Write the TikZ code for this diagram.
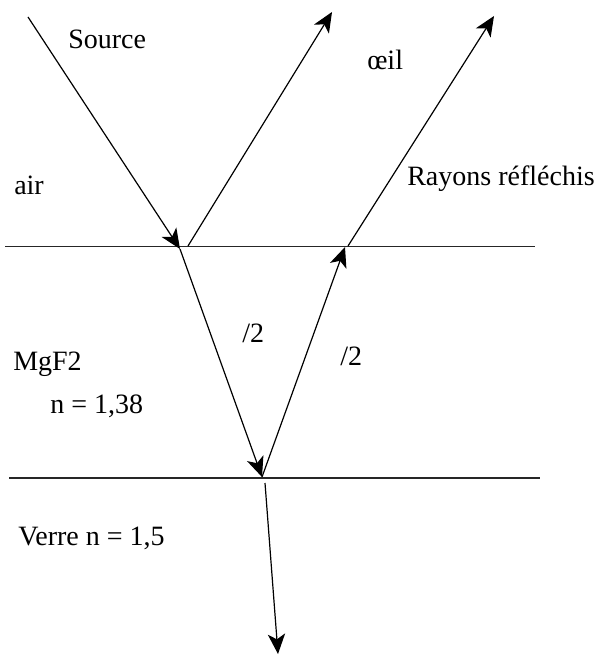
\documentclass[tikz,border=0pt]{standalone}
\usepackage{fontspec}
\setmainfont{Liberation Serif}
\usetikzlibrary{arrows.meta}
\begin{document}
\begin{tikzpicture}[x=0.75pt,y=-0.75pt,
  ray/.style={line width=0.9pt,-{Stealth[length=15pt,width=13pt,inset=4pt]}},
  iface/.style={line width=1.3pt,black!85},
  lbl/.style={anchor=base west,inner sep=0pt,font=\fontsize{21}{25}\selectfont}]
\useasboundingbox (0,0) rectangle (609,655);
% interfaces
\coordinate (t1) at (5,246.5);
\coordinate (t2) at (535,246.5);
\coordinate (b1) at (9,478);
\coordinate (b2) at (540,478);
\draw[iface] (t1) -- (t2);
\draw[iface] (b1) -- (b2);
% ray points
\coordinate (src) at (28,17);
\coordinate (i1) at (180,249);
\coordinate (r1s) at (188,246);
\coordinate (r1e) at (332,12);
\coordinate (i2) at (262,477);
\coordinate (u1) at (345,247);
\coordinate (r2s) at (348,246);
\coordinate (r2e) at (494,16);
\coordinate (ts) at (265,483);
\coordinate (te) at (278,654);
\draw[ray] (src) -- (i1);
\draw[ray] (r1s) -- (r1e);
\draw[ray] (i1) -- (i2);
\draw[ray] (i2) -- (u1);
\draw[ray] (r2s) -- (r2e);
\draw[ray] (ts) -- (te);
% labels
\node[lbl] (lsrc) at (68,49) {Source};
\node[lbl] (loeil) at (367,70) {œil};
\node[lbl] (lair) at (14,195) {air};
\node[lbl] (lray) at (407,186) {Rayons réfléchis};
\node[lbl] (lh1) at (242,342) {/2};
\node[lbl] (lh2) at (340,365) {/2};
\node[lbl] (lmg) at (13,370) {MgF2};
\node[lbl] (ln1) at (50,413) {n = 1,38};
\node[lbl] (ln2) at (18,545) {Verre n = 1,5};
\end{tikzpicture}
\end{document}
